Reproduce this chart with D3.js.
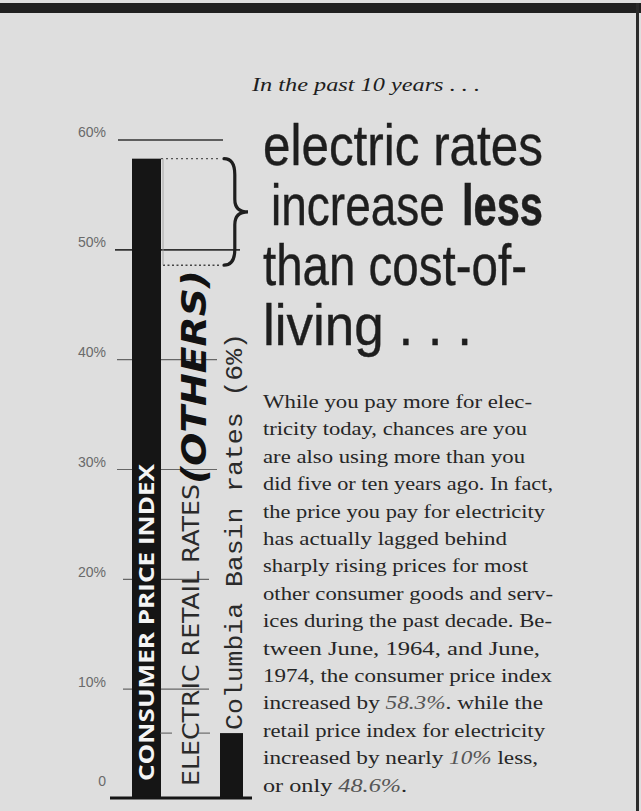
<!DOCTYPE html>
<html>
<head>
<meta charset="utf-8">
<script src="https://cdn.jsdelivr.net/npm/d3@7"></script>
<style>
  html, body { margin: 0; padding: 0; background: #dedede; }
  svg { display: block; }
</style>
</head>
<body>
<div id="chart"></div>
<script>
// ---------- data ----------
const categories = ["CONSUMER PRICE INDEX", "ELECTRIC RETAIL RATES", "Columbia Basin rates (6%)"];
const values = [58.3, 48.6, 6];
const categoryNote = "(OTHERS)";
const tickValues = [0, 10, 20, 30, 40, 50, 60];
const tickLabels = ["0", "10%", "20%", "30%", "40%", "50%", "60%"];
const introText = "In the past 10 years . . .";
const headlineWords = [
  ["electric rates", false],
  ["increase", false],
  ["less", true],
  ["than cost-of-", false],
  ["living . . .", false]
];
const bodyLines = [
  [["While you pay more for elec-", 0]],
  [["tricity today, chances are you", 0]],
  [["are also using more than you", 0]],
  [["did five or ten years ago. In fact,", 0]],
  [["the price you pay for electricity", 0]],
  [["has actually lagged behind", 0]],
  [["sharply rising prices for most", 0]],
  [["other consumer goods and serv-", 0]],
  [["ices during the past decade. Be-", 0]],
  [["tween June, 1964, and June,", 0]],
  [["1974, the consumer price index", 0]],
  [["increased by ", 0], ["58.3%", 1], [". while the", 0]],
  [["retail price index for electricity", 0]],
  [["increased by nearly ", 0], ["10%", 1], [" less,", 0]],
  [["or only ", 0], ["48.6%", 1], [".", 0]]
];

// ---------- layout ----------
const W = 641, H = 811;
const svg = d3.select("#chart").append("svg").attr("width", W).attr("height", H);
svg.append("rect").attr("width", W).attr("height", H).attr("fill", "#dedede");
// frame
svg.append("rect").attr("x", 0).attr("y", 3).attr("width", W).attr("height", 10).attr("fill", "#202020");
svg.append("rect").attr("x", 636).attr("y", 3).attr("width", 3).attr("height", H).attr("fill", "#2a2a2a");

const y = d3.scaleLinear().domain([0, 60]).range([799, 140]);
const x = d3.scaleBand().domain(categories).range([132, 244]).paddingInner(0.2).paddingOuter(0);
const bw = x.bandwidth();
const ink = "#1e1e1e";

// gridlines
const g = svg.append("g");
tickValues.filter(v => v > 0).forEach(v => {
  const x1 = v === 60 ? 118 : v === 50 ? 115 : v >= 30 ? 117 : 123;
  const x2 = v === 60 ? 223 : v === 50 ? 240 : v >= 30 ? 217 : 209;
  g.append("line").attr("x1", x1).attr("x2", x2).attr("y1", y(v)).attr("y2", y(v))
    .attr("stroke", v >= 50 ? "#333" : "#666").attr("stroke-width", v >= 50 ? 1.6 : 1.1);
});

// axis labels (d3 axis, restyled)
const axis = d3.axisLeft(y).tickValues(tickValues).tickFormat((d, i) => tickLabels[i]).tickSize(0);
const ax = svg.append("g").attr("transform", "translate(106,0)").call(axis);
ax.select(".domain").remove();
ax.selectAll("text")
  .attr("x", 0)
  .attr("dy", d => d === 0 ? "-1.0em" : "-0.22em")
  .attr("fill", "#6a6a6a")
  .style("font-family", "Liberation Sans, Arial, sans-serif")
  .style("font-size", "14px");

// CPI bar
svg.append("rect")
  .attr("x", x(categories[0])).attr("width", bw - 3)
  .attr("y", y(values[0])).attr("height", y(0) - y(values[0]))
  .attr("fill", "#151515");

// electric rates: hollow outline with dotted tops
const ex = x(categories[1]);
svg.append("line").attr("x1", x(categories[0]) + bw - 3).attr("x2", ex + bw + 16)
  .attr("y1", y(values[0])).attr("y2", y(values[0]))
  .attr("stroke", "#555").attr("stroke-width", 1.3).attr("stroke-dasharray", "2,3");
svg.append("line").attr("x1", ex - 9).attr("x2", ex + bw + 16)
  .attr("y1", y(values[1])).attr("y2", y(values[1]))
  .attr("stroke", "#444").attr("stroke-width", 1.4).attr("stroke-dasharray", "2,2.5");
svg.append("line").attr("x1", ex - 9).attr("x2", ex - 9)
  .attr("y1", y(values[0])).attr("y2", y(values[1]))
  .attr("stroke", "#999").attr("stroke-width", 0.8);
svg.append("line").attr("x1", ex - 12).attr("x2", ex + bw + 12)
  .attr("y1", y(values[2])).attr("y2", y(values[2]))
  .attr("stroke", "#555").attr("stroke-width", 1).attr("stroke-dasharray", "12,26");

// Columbia bar
svg.append("rect")
  .attr("x", x(categories[2]) + 8).attr("width", bw - 9)
  .attr("y", y(values[2])).attr("height", y(0) - y(values[2]))
  .attr("fill", "#151515");

// baseline
svg.append("line").attr("x1", 110).attr("x2", 252).attr("y1", 798).attr("y2", 798)
  .attr("stroke", "#151515").attr("stroke-width", 3);

// brace between CPI top and electric top
(function () {
  const bx = 224, w = 24, y1 = y(values[0]), y2 = y(values[1]);
  const ym = (y1 + y2) / 2, dy = y2 - y1, q = w * 0.45;
  const p = d3.path();
  p.moveTo(bx, y1);
  p.quadraticCurveTo(bx + q, y1, bx + q, y1 + dy * 0.15);
  p.lineTo(bx + q, ym - dy * 0.12);
  p.quadraticCurveTo(bx + q, ym, bx + w, ym);
  p.quadraticCurveTo(bx + q, ym, bx + q, ym + dy * 0.12);
  p.lineTo(bx + q, y2 - dy * 0.15);
  p.quadraticCurveTo(bx + q, y2, bx, y2);
  svg.append("path").attr("d", p.toString()).attr("fill", "none")
    .attr("stroke", ink).attr("stroke-width", 3.2).attr("stroke-linecap", "round");
})();

// rotated category labels
svg.append("text")
  .attr("transform", `translate(${x(categories[0]) + 22},781) rotate(-90)`)
  .attr("textLength", 317).attr("lengthAdjust", "spacingAndGlyphs")
  .attr("fill", "#f4f4f4")
  .style("font-family", "Open Sans, DejaVu Sans, sans-serif").style("font-weight", 700)
  .style("font-size", "22px")
  .text(categories[0]);

svg.append("text")
  .attr("transform", `translate(${ex + 27},786) rotate(-90)`)
  .attr("textLength", 302).attr("lengthAdjust", "spacingAndGlyphs")
  .attr("fill", "#2a2a2a")
  .style("font-family", "Liberation Sans Narrow, DejaVu Sans Condensed, sans-serif")
  .style("font-size", "23px")
  .text(categories[1]);

svg.append("text")
  .attr("transform", `translate(${ex + 34},484) rotate(-90)`)
  .attr("textLength", 214).attr("lengthAdjust", "spacingAndGlyphs")
  .attr("fill", "#111")
  .style("font-family", "DejaVu Sans, sans-serif").style("font-weight", 900)
  .style("font-style", "italic")
  .style("font-size", "33px")
  .text(categoryNote);

svg.append("text")
  .attr("transform", `translate(${x(categories[2]) + bw - 2},730) rotate(-90)`)
  .attr("textLength", 397).attr("lengthAdjust", "spacingAndGlyphs")
  .attr("fill", "#2a2a2a")
  .style("font-family", "Liberation Mono, DejaVu Sans Mono, monospace")
  .style("font-size", "23px")
  .text(categories[2]);

// intro
svg.append("text").attr("x", 252).attr("y", 91)
  .attr("textLength", 228).attr("lengthAdjust", "spacingAndGlyphs")
  .attr("fill", ink)
  .style("font-family", "Liberation Serif, Times New Roman, serif").style("font-style", "italic")
  .style("font-size", "19px")
  .text(introText);

// headline: each word group scaled horizontally to its target width
const headX = [263, 271, 462, 263, 263];
const headY = [165, 225, 225, 285, 345];
const headW = [280, 174, 81, 264, 209];
headlineWords.forEach(([s, b], i) => {
  const t = svg.append("text")
    .attr("fill", ink)
    .attr("stroke", ink).attr("stroke-width", b ? 0.6 : 0.4)
    .style("font-family", "Liberation Sans Narrow, Arial Narrow, sans-serif")
    .style("font-weight", b ? 700 : 400)
    .style("font-size", "58px")
    .text(s);
  const nat = t.node().getComputedTextLength() || headW[i];
  t.attr("transform", `translate(${headX[i]},${headY[i]}) scale(${headW[i] / nat},1)`);
});

// body
const bodyW = [269, 264, 262, 290, 282, 244, 265, 290, 289, 277, 289, 280, 282, 275, 144];
bodyLines.forEach((line, i) => {
  const t = svg.append("text").attr("x", 263).attr("y", 408 + 27.4 * i)
    .attr("textLength", bodyW[i]).attr("lengthAdjust", "spacingAndGlyphs")
    .attr("fill", "#262626")
    .style("font-family", "Liberation Serif, Times New Roman, serif")
    .style("font-size", "18px");
  line.forEach(([s, it]) => t.append("tspan")
    .style("font-style", it ? "italic" : "normal")
    .attr("fill", it ? "#555" : "#262626").text(s));
});
</script>
</body>
</html>
